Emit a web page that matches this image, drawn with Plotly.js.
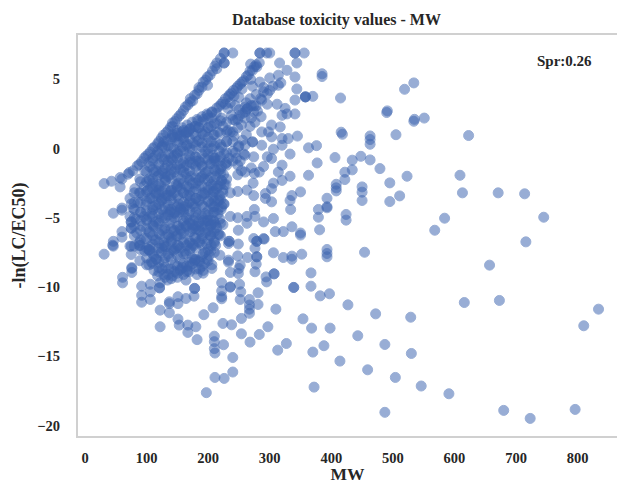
<!DOCTYPE html>
<html>
<head>
<meta charset="utf-8">
<script src="https://cdn.plot.ly/plotly-3.0.1.min.js"></script>
<style>html,body{margin:0;padding:0;background:#fff}#c{width:617px;height:484px}</style>
</head>
<body>
<div id="c"></div>
<script>
// MW / -ln(LC/EC50) values
const mwStripe1 = [31,43,57,57,72,85,99,113,127,142,142,156,171,171,185,185,199,199,214,214,226,226,226,226,240,92,106,120,135,149,163,178,192,207,60,70,78,88,96,103,110,118,124,132,139,146,153,160,167,175,182,190,196,203,211,220];
const toxStripe1 = [-2.53,-2.36,-2.1,-2.77,-1.73,-1.25,-0.55,0.12,0.96,1.6,1.85,2.5,3.36,3.6,4.2,4.4,5.17,4.57,6.18,5.77,6.9,6.9,6.18,6.18,6.9,-0.95,-0.25,0.5,1.3,2.15,3.0,3.85,4.8,5.6,-2.2,-1.85,-1.6,-1.15,-0.7,-0.4,0,0.35,0.75,1.15,1.55,1.95,2.35,2.75,3.15,3.45,3.95,4.45,4.95,5.3,5.95,6.5];
const mwStripe2 = [142,157,171,184,199,214,228,241,255,268,269,284,284,295,300,283,279,128,150,164,178,192,206,221,235,248,262,275,213,228,242,255,269,250,236,244,251,260,274,260,287,290,300,314,314,316,328,341,341,356,344,341,344,358,358,358,341,206,218,224,233,238,246,252,258,265,272,278,248,256,263,270,278,285,296,305,318];
const toxStripe2 = [0.84,1.2,1.44,2,2.4,2.93,3.6,4.2,4.8,5.6,6.1,6.9,6.9,6.9,6.9,6.2,5.9,0.5,0.95,1.1,1.6,2.1,2.6,3.2,3.9,4.5,5.2,5.9,2.55,3.2,3.8,4.3,5.0,3.7,3.3,2.04,2.4,3.0,2.64,2.64,3.5,4.1,4.2,4.57,5.3,6.18,5.65,6.9,6.9,6.9,6.18,5.17,4.3,3.73,3.73,3.73,3.5,2.65,3.05,3.35,3.75,4.0,4.35,4.65,4.9,5.3,5.65,6.05,2.1,2.55,2.85,3.1,3.1,3.6,3.95,4.5,4.75];
const mwBody = [
 73,81,89,97,104,110,118,126,134,142,150,158,166,174,182,190,198,206,214,222,
 88,96,104,112,120,128,136,144,152,160,168,176,184,192,200,208,216,224,232,
 78,86,94,102,110,118,126,134,142,150,158,166,174,182,190,198,206,214,222,230,
 75,83,91,99,107,115,123,131,139,147,155,163,171,179,187,195,203,211,219,
 75,84,92,100,108,116,124,132,140,148,156,164,172,180,188,196,204,212,220,228,
 80,88,96,104,112,120,128,136,144,152,160,168,176,184,192,200,208,216,224,
 89,97,105,113,121,129,137,145,153,161,169,177,185,193,201,209,217,225,
 104,112,120,128,136,144,152,160,168,176,184,192,200,208,216,
 100,108,116,124,132,140,148,156,164,172,180,188,196,204,
 112,120,128,136,144,152,160,170,178,186,
 118,128,136,146,154,164,172,
 122,134,142,155,178,
 96,110,124,138,152,166,180,194,208,222,
 110,124,138,152,166,180,194,208,
 128,142,156,170,184,198,212,
 148,162,176,190,204,218,
 130,140,150,160,170,180,190,200,210,
 120,130,140,150,160,170,180,
 106,115,125,135,145,155,165,175,185,195,205];
const toxBody = [
 -3.6,-2.9,-2.2,-1.6,-1.0,-0.7,-0.2,0.2,0.6,1.0,1.3,1.5,1.7,1.9,2.1,2.3,2.5,2.2,1.8,2.2,
 -3.2,-2.7,-2.2,-1.7,-1.2,-0.8,-0.4,0.0,0.5,0.8,1.2,1.1,1.5,1.0,1.5,1.0,1.2,1.6,1.3,
 -4.3,-3.9,-3.4,-3.0,-2.5,-2.0,-1.6,-1.2,-0.8,-0.3,0.1,0.3,-0.1,0.5,0.1,0.4,0.0,0.4,0.1,0.5,
 -5.3,-5.1,-4.6,-4.1,-3.6,-3.2,-2.7,-2.3,-1.9,-1.5,-1.1,-0.7,-1.0,-0.6,-1.0,-0.7,-1.1,-0.7,-0.9,
 -5.75,-6.1,-5.6,-5.2,-4.7,-4.3,-3.8,-3.4,-3.0,-2.6,-2.2,-1.8,-2.0,-1.6,-2.1,-1.7,-2.1,-1.6,-1.8,-1.1,
 -7.05,-6.8,-6.5,-6.0,-5.6,-5.2,-4.8,-4.4,-4.0,-3.6,-3.2,-2.8,-3.1,-2.7,-3.2,-2.8,-3.1,-2.7,-3.2,
 -7.0,-7.4,-7.1,-6.6,-6.2,-5.8,-5.4,-5.0,-4.6,-4.2,-3.9,-4.2,-3.8,-4.2,-3.8,-4.2,-3.7,-4.0,
 -7.3,-7.8,-7.2,-6.8,-6.4,-6.0,-5.6,-5.2,-4.8,-5.2,-4.8,-5.2,-4.8,-4.6,-4.4,
 -8.4,-8.2,-8.0,-7.5,-7.1,-6.7,-6.3,-5.9,-5.6,-6.0,-5.6,-6.0,-5.6,-5.2,
 -8.8,-8.6,-8.2,-7.8,-7.4,-7.0,-6.6,-6.8,-6.4,-6.8,
 -9.2,-9.1,-8.7,-8.4,-8.0,-7.6,-7.2,
 -9.7,-9.5,-9.2,-8.8,-8.0,
 -4.9,-4.4,-3.6,-3.1,-2.5,-2.1,-2.5,-2.2,-2.7,-2.3,
 -5.5,-5.0,-4.6,-4.0,-3.4,-3.6,-3.3,-3.5,
 -7.0,-6.6,-6.2,-5.4,-5.6,-5.2,-5.5,
 -7.2,-7.4,-7.0,-6.5,-6.3,-6.2,
 -1.8,-1.2,-0.7,-1.4,-0.5,-0.9,-1.3,-0.4,-0.9,
 -3.0,-2.4,-3.4,-2.8,-4.4,-3.4,-4.6,
 -2.9,-3.3,-3.7,-4.1,-4.7,-4.3,-5.0,-5.8,-5.9,-5.3,-6.0];
const mwCols = [80,90,100,110,120,130,140,150,160,170,180,190,200,210,220,230,240,
                105,115,125,135,145,155,165,175,185,195,205];
const toxCols = [
 [-6.3,-5.6,-5.0,-4.4,-3.9,-3.2],
 [-7.3,-6.6,-5.9,-5.2,-4.6,-3.9,-3.2,-2.4],
 [-7.9,-7.2,-6.5,-5.8,-5.1,-4.5,-3.8,-3.1,-2.4,-1.7],
 [-8.3,-7.6,-6.9,-6.3,-5.6,-4.9,-4.2,-3.6,-2.9,-2.2,-1.5,-0.9],
 [-8.9,-8.2,-7.5,-6.8,-6.1,-5.4,-4.7,-4.0,-3.3,-2.6,-1.9,-1.1,-0.4],
 [-9.3,-8.6,-7.9,-7.1,-6.4,-5.7,-5.0,-4.3,-3.6,-2.9,-2.1,-1.4,-0.6,0.1],
 [-9.4,-8.7,-8.0,-7.3,-6.5,-5.8,-5.1,-4.4,-3.7,-3.0,-2.2,-1.5,-0.7,0,0.7],
 [-9.3,-8.5,-7.7,-7,-6.3,-5.6,-4.9,-4.2,-3.4,-2.7,-2,-1.2,-0.4,0.4,1.1],
 [-9.1,-8.3,-7.6,-6.8,-6.1,-5.4,-4.6,-3.9,-3.2,-2.5,-1.7,-1,-0.2,0.6,1.3],
 [-8.9,-8.2,-7.4,-6.7,-6,-5.2,-4.5,-3.8,-3.1,-2.3,-1.6,-0.8,0,0.7,1.4],
 [-8.7,-8,-7.2,-6.5,-5.8,-5,-4.3,-3.6,-2.9,-2.1,-1.3,-0.6,0.2,0.9,1.6],
 [-8.5,-7.8,-7,-6.3,-5.6,-4.9,-4.1,-3.4,-2.7,-2,-1.2,-0.4,0.4,1.1,1.9],
 [-8.1,-7.3,-6.6,-5.9,-5.2,-4.5,-3.8,-3,-2.3,-1.6,-0.8,0,0.8,1.5,2.2],
 [-7.5,-6.7,-6,-5.3,-4.6,-3.8,-3.1,-2.3,-1.5,-0.7,0.2,1,1.8],
 [-6.3,-5.4,-3.7,-2.6,-1.5,-0.6,0.3,1.1,2],
 [-1,-0.3,0.5,1.2,1.9],
 [-0.2,0.5,1.2,2.1],
 [-7.4,-6.1,-4.9,-3.6,-2.3,-1.3],
 [-8.0,-6.6,-5.3,-4.1,-2.7,-1.6,-0.5],
 [-8.7,-7.2,-5.9,-4.4,-3.1,-1.8,-0.6,0.1],
 [-9.1,-7.6,-6.2,-4.8,-3.4,-2.0,-0.9,0.2],
 [-8.9,-7.3,-5.9,-4.6,-3.2,-1.7,-0.5,0.8],
 [-8.7,-7.2,-5.8,-4.4,-2.9,-1.5,-0.2,0.9],
 [-8.5,-7.0,-5.6,-4.1,-2.7,-1.2,0.2,1.2],
 [-8.3,-6.9,-5.5,-4.0,-2.5,-1.1,0.4],
 [-8.1,-6.7,-5.3,-3.7,-2.3,-0.9,0.6,1.5],
 [-7.5,-6.1,-4.7,-3.2,-1.8,-0.2,1.2],
 [-7.0,-5.5,-4.0,-2.6,-1.1,0.5,1.6]];
const mwExtra = [208,213,218,222,226,212,217,221,225,230,234,208,214,219,224,229,210,216,221,226,204,209,214,219,224,198,204,210,216,186,192,198,204,212,170,178,186,194,202,150,158,166,174,182,232,238,244,250,236,242,248,254,260,244,250,256,262,268,252,258,264,270,276,262,268,274,280,286,272,278,284,290,296,300,240,226,216];
const toxExtra = [-0.5,-0.9,-0.2,-1.3,-0.4,-2.0,-1.6,-2.3,-1.9,-1.2,-0.7,-3.2,-2.9,-3.4,-3.0,-2.6,-4.2,-3.8,-4.4,-4.0,-5.6,-5.2,-5.7,-5.1,-5.5,-6.9,-6.3,-6.8,-6.2,-8.2,-7.6,-8.0,-7.4,-7.0,-8.5,-8.1,-8.7,-8.3,-7.7,-9.0,-8.6,-8.8,-7.9,-9.1,2.9,2.4,3.1,2.8,1.2,0.9,1.5,1.7,2.2,-0.3,0.2,0.6,1.0,1.6,-0.9,-0.4,2.9,2.2,1.9,3.3,3.6,3.1,2.7,2.3,4.5,3.9,4.8,4.4,3.2,5.1,-0.9,-2.6,-4.7];
const mwEdge = [46,60,75,75,75,60,60,46,46,31,75,75,89,89,104,104,76,45,73,61,61,76,76,60,73];
const toxEdge = [-4.67,-4.3,-4.0,-5.3,-5.75,-6,-6.4,-6.7,-7.05,-7.63,-7.05,-7.65,-7,-8.1,-7.3,-8.4,-8.6,-6.98,-7.05,-9.3,-9.7,-8.66,-8.95,-4.45,-4.9];
const mwMid = [303,298,287,317,303,320,330,345,272,272,260,249,287,320,306,303,333,274,260,248,248,260,275,290,320,314,333,320,306,303,273,263,248,274,293,293,303,336,333,350,334,275,263,276,248,236,306,290,249,336,322,309,350,290,274,263,230,312,325,328,320,341,350,279,279,291,249,234,234,276,233,254,270,283,296,236,222,246];
const toxMid = [1.7,1.2,1.2,1.56,0.84,0.72,0.72,0.9,0.48,0.48,0.24,0.12,0.24,0.24,-0.05,-0.72,-0.4,-0.6,-0.48,-1.2,-1.9,-1.7,-1.8,-1.3,-1.2,-1.7,-2,-2.3,-2.5,-2.9,-2.5,-3,-3.1,-3.4,-3.25,-3.6,-3.85,-3.4,-3.75,-3.13,-4.4,-4.4,-4.9,-4.9,-5,-4.9,-5.05,-5.3,-5.9,-5.65,-6,-6,-6.1,-6.5,-6.5,-5.4,-2.2,3.2,2.9,2.5,2.4,2.5,-6.25,-6.7,-6.7,-6.54,-6.9,-6.7,-6.7,-7.2,-6.86,-1.6,-1.4,-1.7,-0.6,-3.2,-4.2,-0.7];
const mwLow = [92,92,92,106,106,106,121,121,122,137,122,137,137,151,151,164,177,178,178,151,153,167,167,180,182,193,208,210,210,210,211,225,224,238,240,240,211,226,197,254,254,268,283,297,313,327,310,354,281,267,267,267,267,252,253,251,236,236,222,222,222,222,281,295,294,307,307,339,339,306,322,336,336,352,236,249,250,252,276,278,248,264,279,279,233,233,219,206,206,192,192,164,165];
const toxLow = [-9.94,-10.6,-11.1,-9.8,-10.35,-10.9,-10.06,-10.06,-11.67,-11.86,-12.87,-11.07,-11.2,-11.2,-10.7,-10.83,-10.66,-10.1,-10.1,-12.32,-12.75,-12.75,-13.28,-12.87,-13.8,-12,-11.5,-13.55,-13.95,-14.45,-14.77,-14.17,-12.63,-12.73,-15.09,-16.14,-16.53,-16.6,-17.63,-12.27,-13.38,-13.98,-13.43,-12.87,-14.56,-14.08,-11.6,-12.3,-11.26,-11.9,-11.6,-11.3,-10.9,-10.9,-10.35,-9.8,-10,-10,-9.7,-10.28,-10.7,-10.85,-10.42,-9.63,-9.27,-9.05,-9.05,-10.03,-10.03,-7.53,-7.87,-7.77,-8,-7.63,-8.95,-9.03,-8.66,-8.42,-8.9,-8.35,-7.75,-7.87,-7.82,-7.82,-8.06,-8.2,-7.7,-8.4,-8.66,-9,-8.8,-9.5,-8.9];
const mwSparse = [385,385,519,534,415,370,491,490,551,535,534,505,623,416,418,463,463,463,376,363,406,377,434,448,463,479,363,422,434,422,523,609,613,671,714,408,408,408,450,450,450,495,511,495,393,379,379,393,393,424,424,381,584,568,745,716,393,393,393,454,657,367,367,382,397,427,616,673,472,529,834,810,368,398,443,487,370,388,530,414,459,504,546,372,591,487,680,723,796];
const toxSparse = [5.4,5.2,4.28,4.74,3.65,3.77,2.72,2.6,2.2,2.11,1.97,1.0,0.94,1.18,1.03,0.91,0.65,0.31,0.21,0.05,-0.65,-1.04,-0.84,-0.56,-0.82,-1.45,-1.93,-1.71,-1.54,-2.24,-2.0,-1.93,-3.2,-3.2,-3.27,-2.58,-2.84,-3.06,-2.77,-3.15,-3.75,-2.48,-3.42,-3.83,-3.59,-4.4,-4.96,-4.2,-4.28,-4.76,-5.17,-5.87,-5.03,-5.9,-4.96,-6.74,-7.29,-7.58,-7.82,-7.49,-8.42,-8.98,-9.94,-10.64,-10.49,-11.29,-11.12,-10.97,-11.94,-12.18,-11.6,-12.8,-12.97,-12.97,-13.52,-14.15,-14.7,-14.24,-14.8,-15.35,-15.98,-16.53,-17.15,-17.23,-17.71,-19.05,-18.91,-19.49,-18.84];
const xTicks = [0,100,200,300,400,500,600,700,800];
const yTicks = [-20,-15,-10,-5,0,5];

const mwFill = mwCols.flatMap((m,i)=>toxCols[i].map(()=>m));
const toxFill = toxCols.flat();
const x = [].concat(mwStripe1,mwStripe2,mwBody,mwFill,mwExtra,mwEdge,mwMid,mwLow,mwSparse);
const y = [].concat(toxStripe1,toxStripe2,toxBody,toxFill,toxExtra,toxEdge,toxMid,toxLow,toxSparse);
const font = {family:'"Liberation Serif","Times New Roman",serif',color:'#262626'};
Plotly.newPlot('c',[{
  type:'scatter',mode:'markers',x:x,y:y,hoverinfo:'skip',
  marker:{size:10,color:'rgb(60,100,175)',opacity:0.52,line:{width:1,color:'rgb(60,100,175)'}}
}],{
  width:617,height:484,
  margin:{l:78,r:0,t:35,b:48},
  paper_bgcolor:'#fff',plot_bgcolor:'#fff',showlegend:false,
  title:{text:'<b>Database toxicity values - MW</b>',x:0.5454,xanchor:'center',y:0.959,yanchor:'middle',font:Object.assign({},font,{size:16})},
  xaxis:{range:[-11.4,864],tickvals:xTicks,showgrid:false,zeroline:false,showline:true,mirror:true,linecolor:'#d0d0d0',linewidth:2,
    ticks:'outside',ticklen:8,tickcolor:'rgba(0,0,0,0)',tickfont:Object.assign({},font,{size:14.5,weight:'bold'}),
    title:{text:'<b>MW</b>',standoff:8,font:Object.assign({},font,{size:17.5})}},
  yaxis:{range:[-20.76,8.2],tickvals:yTicks,showgrid:false,zeroline:false,showline:true,linecolor:'#d0d0d0',linewidth:2,
    ticks:'outside',ticklen:13,tickcolor:'rgba(0,0,0,0)',tickfont:Object.assign({},font,{size:14.5,weight:'bold'}),
    title:{text:'<b>-ln(LC/EC50)</b>',standoff:7,font:Object.assign({},font,{size:18})}},
  annotations:[{text:'<b>Spr:0.26</b>',x:778,y:6.3,xref:'x',yref:'y',showarrow:false,font:Object.assign({},font,{size:15})}]
},{staticPlot:true,displayModeBar:false});
</script>
</body>
</html>
